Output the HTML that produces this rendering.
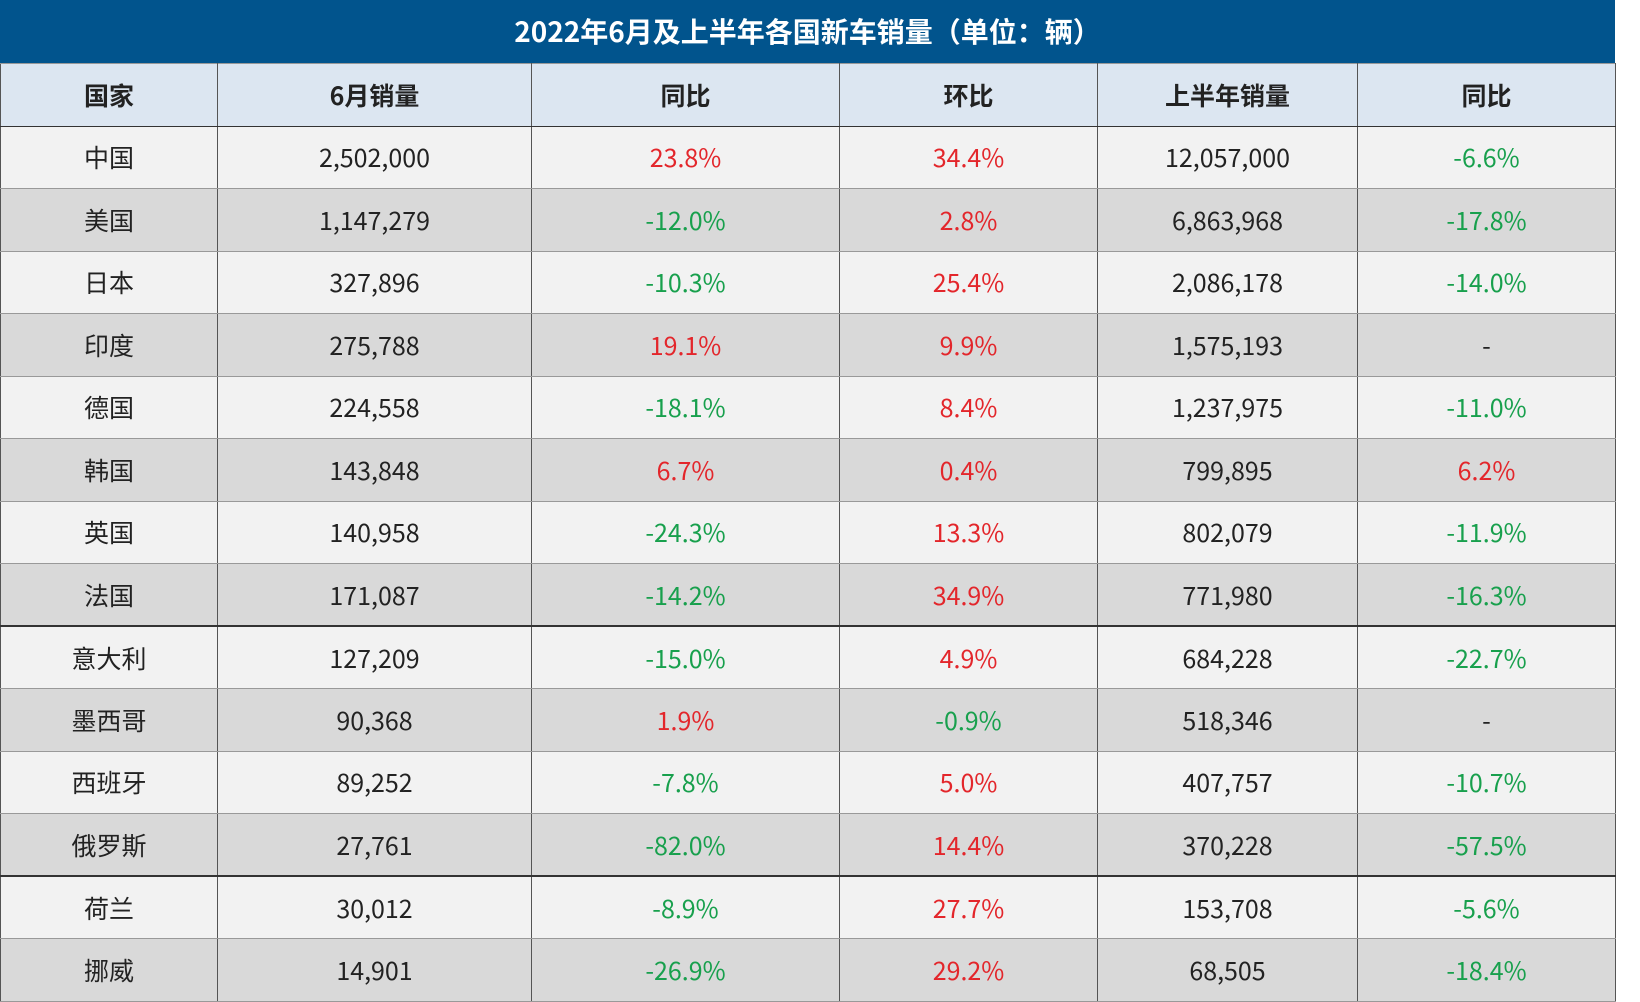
<!DOCTYPE html><html><head><meta charset="utf-8"><style>
body{margin:0;width:1640px;height:995px;overflow:hidden;background:#fff;font-family:"Liberation Sans","Noto Sans CJK SC",sans-serif}
.t{position:absolute;left:0;top:0;width:1615px;height:63px;background:#01548d;color:#fff;font-weight:bold;font-size:28px;text-align:center;line-height:63px;font-family:"Noto Sans CJK SC",sans-serif}
table{position:absolute;left:0;top:63px;border-collapse:collapse;width:1615px;table-layout:fixed}
td{height:62.5px;box-sizing:border-box;padding:0;text-align:center;font-size:25px;color:#222;border:1px solid #555;border-top:1px solid #999;border-bottom:1px solid #999;font-family:"Noto Sans CJK SC",sans-serif}
tr.h td{background:#dce6f1;font-weight:bold;border-bottom:1px solid #333}
tr:nth-child(even) td{background:#f2f2f2}tr:nth-child(odd):not(.h) td{background:#d9d9d9}
tr.k td{border-bottom:2px solid #333}
.r{color:#e3262b}.g{color:#18a04d}
</style></head><body>
<div class="t">2022年6月及上半年各国新车销量（单位：辆）</div>
<table><colgroup><col style="width:217px"><col style="width:314px"><col style="width:308px"><col style="width:258px"><col style="width:260px"><col style="width:258px"></colgroup>
<tr class="h"><td>国家</td><td>6月销量</td><td>同比</td><td>环比</td><td>上半年销量</td><td>同比</td></tr>
<tr><td>中国</td><td>2,502,000</td><td class="r">23.8%</td><td class="r">34.4%</td><td>12,057,000</td><td class="g">-6.6%</td></tr>
<tr><td>美国</td><td>1,147,279</td><td class="g">-12.0%</td><td class="r">2.8%</td><td>6,863,968</td><td class="g">-17.8%</td></tr>
<tr><td>日本</td><td>327,896</td><td class="g">-10.3%</td><td class="r">25.4%</td><td>2,086,178</td><td class="g">-14.0%</td></tr>
<tr><td>印度</td><td>275,788</td><td class="r">19.1%</td><td class="r">9.9%</td><td>1,575,193</td><td>-</td></tr>
<tr><td>德国</td><td>224,558</td><td class="g">-18.1%</td><td class="r">8.4%</td><td>1,237,975</td><td class="g">-11.0%</td></tr>
<tr><td>韩国</td><td>143,848</td><td class="r">6.7%</td><td class="r">0.4%</td><td>799,895</td><td class="r">6.2%</td></tr>
<tr><td>英国</td><td>140,958</td><td class="g">-24.3%</td><td class="r">13.3%</td><td>802,079</td><td class="g">-11.9%</td></tr>
<tr class="k"><td>法国</td><td>171,087</td><td class="g">-14.2%</td><td class="r">34.9%</td><td>771,980</td><td class="g">-16.3%</td></tr>
<tr><td>意大利</td><td>127,209</td><td class="g">-15.0%</td><td class="r">4.9%</td><td>684,228</td><td class="g">-22.7%</td></tr>
<tr><td>墨西哥</td><td>90,368</td><td class="r">1.9%</td><td class="g">-0.9%</td><td>518,346</td><td>-</td></tr>
<tr><td>西班牙</td><td>89,252</td><td class="g">-7.8%</td><td class="r">5.0%</td><td>407,757</td><td class="g">-10.7%</td></tr>
<tr class="k"><td>俄罗斯</td><td>27,761</td><td class="g">-82.0%</td><td class="r">14.4%</td><td>370,228</td><td class="g">-57.5%</td></tr>
<tr><td>荷兰</td><td>30,012</td><td class="g">-8.9%</td><td class="r">27.7%</td><td>153,708</td><td class="g">-5.6%</td></tr>
<tr><td>挪威</td><td>14,901</td><td class="g">-26.9%</td><td class="r">29.2%</td><td>68,505</td><td class="g">-18.4%</td></tr>
</table></body></html>
